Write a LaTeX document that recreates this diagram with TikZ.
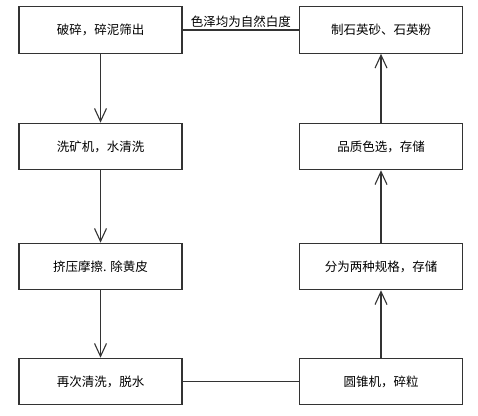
\documentclass[tikz,border=0pt]{standalone}
\usepackage{fontspec}
\setmainfont{Noto Sans CJK SC}
\usetikzlibrary{arrows.meta}
\definecolor{ln}{HTML}{333333}
\tikzset{
  box/.style={draw=ln, line width=1.1pt, minimum width=163pt, minimum height=46.5pt, inner sep=0pt, font=\fontsize{12.5pt}{14pt}\selectfont, text=black},
  conn/.style={draw=ln, line width=1.1pt},
  arr/.style={conn, -{Straight Barb[length=13pt, width=12pt, line width=1.1pt]}}
}
\begin{document}
\begin{tikzpicture}[x=1pt,y=-1pt]
\useasboundingbox (0,0) rectangle (478,415);
\node[box] (a1) at (100.5,30) {破碎，碎泥筛出};
\node[box] (a2) at (100.5,146.5) {洗矿机，水清洗};
\node[box] (a3) at (100.5,266.5) {挤压摩擦. 除黄皮};
\node[box] (a4) at (100.5,381.5) {再次清洗，脱水};
\node[box] (b4) at (381,381.5) {圆锥机，碎粒};
\node[box] (b3) at (381,266.5) {分为两种规格，存储};
\node[box] (b2) at (381,146.5) {品质色选，存储};
\node[box] (b1) at (381,30) {制石英砂、石英粉};
\draw[arr] (a1) -- (a2);
\draw[arr] (a2) -- (a3);
\draw[arr] (a3) -- (a4);
\draw[conn] (a4) -- (b4);
\draw[arr] (b4) -- (b3);
\draw[arr] (b3) -- (b2);
\draw[arr] (b2) -- (b1);
\draw[conn] (a1) -- node[above, inner sep=2pt, font=\fontsize{12.5pt}{14pt}\selectfont] {色泽均为自然白度} (b1);
\end{tikzpicture}
\end{document}
